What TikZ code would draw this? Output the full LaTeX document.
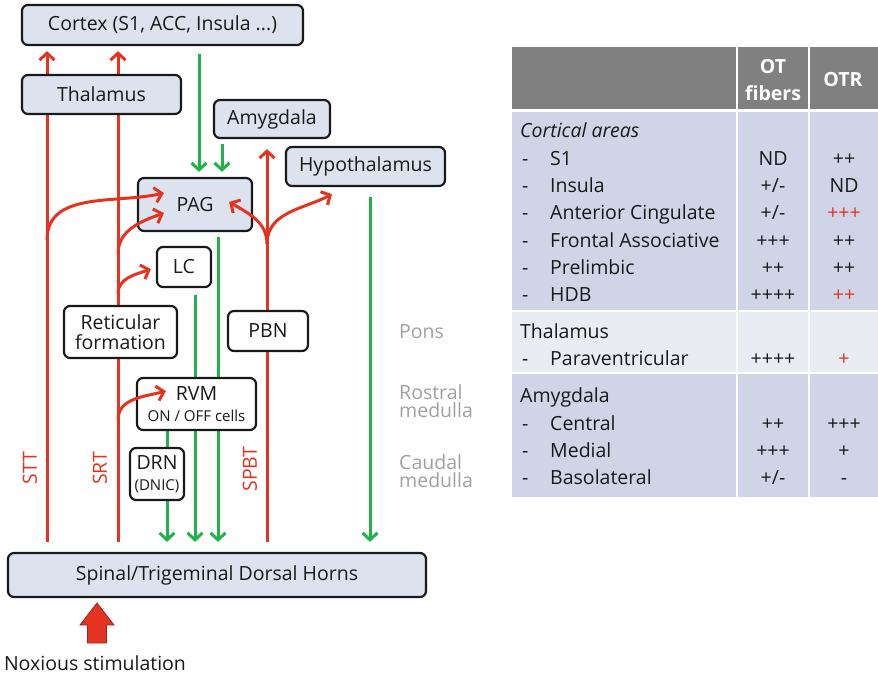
\documentclass[tikz,border=0pt]{standalone}
\usepackage{fontspec}
\setmainfont{Open Sans}
\usetikzlibrary{arrows.meta}

\definecolor{boxfill}{HTML}{DCE3EE}
\definecolor{nred}{HTML}{E53322}
\definecolor{ngreen}{HTML}{22B24C}
\definecolor{tabhead}{HTML}{808080}
\definecolor{tabblue}{HTML}{CFD5E6}
\definecolor{tablight}{HTML}{E9ECF3}
\definecolor{regiongray}{HTML}{A0A0A0}

\pgfdeclarelayer{background}
\pgfsetlayers{background,main}

\begin{document}
\begin{tikzpicture}
    [
        x=1pt, y=-1pt,
        every node/.style = {font=\fontsize{19.5}{22}\selectfont, inner sep=0pt, text=black!90},
        bluebox/.style = {draw=black!90, line width=2.2pt, rounded corners=6pt, fill=boxfill},
        whitebox/.style = {bluebox, fill=white},
        region/.style = {anchor=west, align=left, text=regiongray, font=\fontsize{19.5}{18}\selectfont},
        tract/.style = {rotate=90, text=nred},
        redarrow/.style = {draw=nred, line width=3pt, -{Straight Barb[length=7pt,width=15pt]}},
        greenarrow/.style = {draw=ngreen, line width=3pt, -{Straight Barb[length=7pt,width=15pt]}},
        tabname/.style = {anchor=base west},
        tabval/.style = {anchor=base},
    ]

    \useasboundingbox (0,0) rectangle (878,678);

    \node[bluebox, minimum width=281pt, minimum height=40pt] (Cortex) at (162.5,25) {Cortex (S1, ACC, Insula ...)};
    \node[bluebox, minimum width=159pt, minimum height=39pt] (Thalamus) at (101.5,94.5) {Thalamus};
    \node[bluebox, minimum width=116pt, minimum height=38pt] (Amygdala) at (272,119) {Amygdala};
    \node[bluebox, minimum width=159pt, minimum height=39pt] (Hypothalamus) at (365.5,166.5) {Hypothalamus};
    \node[bluebox, minimum width=114pt, minimum height=53pt] (PAG) at (195,204.5) {PAG};
    \node[whitebox, minimum width=54pt, minimum height=40pt] (LC) at (184,267) {LC};
    \node[whitebox, minimum width=113pt, minimum height=52pt, align=center, font=\fontsize{19.5}{20}\selectfont] (Reticular) at (120.5,332) {Reticular\\formation};
    \node[whitebox, minimum width=80pt, minimum height=40pt] (PBN) at (268,331) {PBN};
    \node[whitebox, minimum width=119pt, minimum height=52pt, align=center, font=\fontsize{19.5}{22}\selectfont] (RVM) at (196.5,404) {RVM\\[-1pt]{\fontsize{15}{17}\selectfont ON / OFF cells}};
    \node[whitebox, minimum width=54pt, minimum height=52pt, align=center, font=\fontsize{19.5}{22}\selectfont] (DRN) at (157,474) {DRN\\[-1pt]{\fontsize{15}{17}\selectfont (DNIC)}};
    \node[bluebox, minimum width=418pt, minimum height=44pt] (Spinal) at (217,575) {Spinal/Trigeminal Dorsal Horns};
    \node (Noxious) at (95,663) {Noxious stimulation};

    \node[region] (Pons) at (399,332) {Pons};
    \node[region] (Rostral) at (399,401) {Rostral\\medulla};
    \node[region] (Caudal) at (399,471) {Caudal\\medulla};

    \node[tract] (STT) at (30,468) {STT};
    \node[tract] (SRT) at (100,468) {SRT};
    \node[tract] (SPBT) at (250,469) {SPBT};

    \coordinate (stt) at (47,0);
    \coordinate (srt) at (118,0);
    \coordinate (spbt) at (267,0);
    \coordinate (g1) at (199,0);
    \coordinate (g2) at (222,0);
    \coordinate (g3) at (218,0);
    \coordinate (g4) at (195,0);
    \coordinate (g5) at (167,0);
    \coordinate (g6) at (370,0);

    \begin{pgfonlayer}{background}
        \draw[redarrow, shorten <=10pt, shorten >=5pt] (stt |- Spinal.north) -- (stt |- Cortex.south);
        \draw[redarrow, shorten <=10pt, shorten >=5pt] (srt |- Spinal.north) -- (srt |- Cortex.south);
        \draw[redarrow, shorten <=10pt, shorten >=10pt] (spbt |- Spinal.north) -- (spbt |- Amygdala.south);

        \draw[greenarrow, shorten <=8pt, shorten >=5pt] (g1 |- Cortex.south) -- (g1 |- PAG.north);
        \draw[greenarrow, shorten <=5pt, shorten >=5pt] (g2 |- Amygdala.south) -- (g2 |- PAG.north);
        \draw[greenarrow, shorten <=5pt, shorten >=10pt] (g3 |- PAG.south) -- (g3 |- Spinal.north);
        \draw[greenarrow, shorten <=7pt, shorten >=10pt] (g4 |- LC.south) -- (g4 |- Spinal.north);
        \draw[greenarrow, shorten >=10pt] (g5 |- RVM.south) -- (g5 |- Spinal.north);
        \draw[greenarrow, shorten <=10pt, shorten >=10pt] (g6 |- Hypothalamus.south) -- (g6 |- Spinal.north);
    \end{pgfonlayer}

    \coordinate (sttPAG) at (47,240);
    \coordinate (srtPAG) at (118,254);
    \coordinate (srtLC) at (118,294);
    \coordinate (srtRVM) at (118,420);
    \coordinate (spbtUp) at (267,244);

    \draw[redarrow] (sttPAG) to[out=90, in=193] ([xshift=27pt,yshift=11.5pt]PAG.west);
    \draw[redarrow] (srtPAG) to[out=90, in=200] ([xshift=27pt,yshift=-8.5pt]PAG.west);
    \draw[redarrow] (srtLC) to[out=90, in=200] ([xshift=-5pt,yshift=-2pt]LC.west);
    \draw[redarrow] (srtRVM) to[out=90, in=195] ([xshift=30pt,yshift=13pt]RVM.west);
    \draw[redarrow] (spbtUp) to[out=90, in=-30] ([xshift=-24pt,yshift=2.5pt]PAG.east);
    \draw[redarrow] (spbtUp) to[out=90, in=208] ([xshift=-33.5pt,yshift=-7pt]Hypothalamus.south);

    \filldraw[fill=nred, draw=nred!70!black, line width=0.8pt] (97,603) -- ++(17,22) -- ++(-7.5,0) -- ++(0,18) -- ++(-19,0) -- ++(0,-18) -- ++(-7.5,0) -- cycle;

    \fill[tabhead] (512,47) rectangle (878,109);
    \fill[tabblue] (512,112) rectangle (878,310);
    \fill[tablight] (512,312) rectangle (878,372);
    \fill[tabblue] (512,374) rectangle (878,497);
    \draw[white, line width=2pt] (737,47) -- (737,497);
    \draw[white, line width=2pt] (809,47) -- (809,497);

    \node[align=center, text=white, font=\bfseries\fontsize{19.5}{27}\selectfont] (OThead) at (773,80) {OT\\fibers};
    \node[text=white, font=\bfseries\fontsize{19.5}{22}\selectfont] (OTRhead) at (843,80) {OTR};

    \node[tabname, font=\itshape\fontsize{19.5}{22}\selectfont] (cortical) at (520,137) {Cortical areas};
    \node[tabname] at (522,165) {-}; \node[tabname] (s1) at (550,165) {S1};
    \node[tabval] at (773,165) {ND}; \node[tabval] at (844,165) {++};
    \node[tabname] at (522,192) {-}; \node[tabname] (insula) at (550,192) {Insula};
    \node[tabval] at (773,192) {+/-}; \node[tabval] at (844,192) {ND};
    \node[tabname] at (522,219) {-}; \node[tabname] (acc) at (550,219) {Anterior Cingulate};
    \node[tabval] at (773,219) {+/-}; \node[tabval, text=nred] at (844,219) {+++};
    \node[tabname] at (522,247) {-}; \node[tabname] (frontal) at (550,247) {Frontal Associative};
    \node[tabval] at (773,247) {+++}; \node[tabval] at (844,247) {++};
    \node[tabname] at (522,274) {-}; \node[tabname] (prelimbic) at (550,274) {Prelimbic};
    \node[tabval] at (773,274) {++}; \node[tabval] at (844,274) {++};
    \node[tabname] at (522,301) {-}; \node[tabname] (hdb) at (550,301) {HDB};
    \node[tabval] at (773,301) {++++}; \node[tabval, text=nred] at (844,301) {++};

    \node[tabname] (thal) at (520,338) {Thalamus};
    \node[tabname] at (522,365) {-}; \node[tabname] (paravent) at (550,365) {Paraventricular};
    \node[tabval] at (773,365) {++++}; \node[tabval, text=nred] at (844,365) {+};

    \node[tabname] (amyg) at (520,402) {Amygdala};
    \node[tabname] at (522,430) {-}; \node[tabname] (central) at (550,430) {Central};
    \node[tabval] at (773,430) {++}; \node[tabval] at (844,430) {+++};
    \node[tabname] at (522,457) {-}; \node[tabname] (medial) at (550,457) {Medial};
    \node[tabval] at (773,457) {+++}; \node[tabval] at (844,457) {+};
    \node[tabname] at (522,484) {-}; \node[tabname] (baso) at (550,484) {Basolateral};
    \node[tabval] at (773,484) {+/-}; \node[tabval] at (844,484) {-};
\end{tikzpicture}
\end{document}
